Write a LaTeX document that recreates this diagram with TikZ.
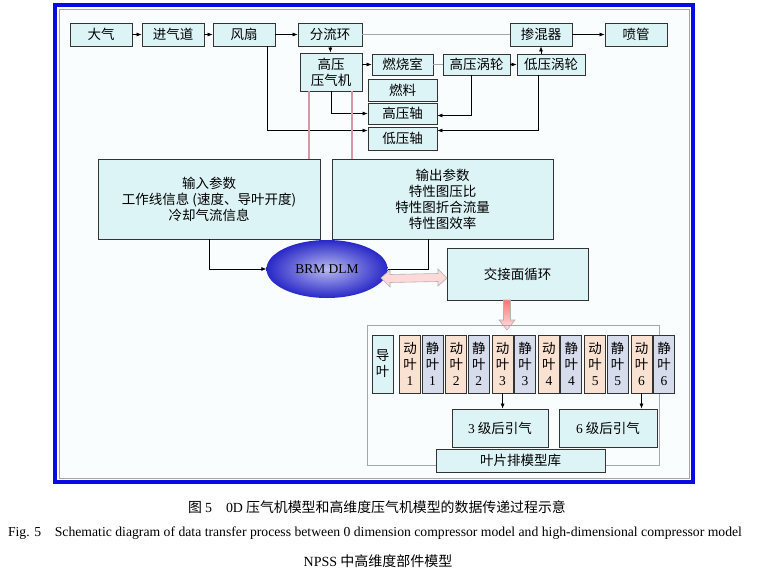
\documentclass[tikz,border=0pt]{standalone}
\usepackage{fontspec}
\setmainfont{Liberation Serif}
\newfontfamily\cjk{Noto Sans CJK SC}
\usepackage{tikz}
\usetikzlibrary{arrows.meta, shapes.geometric}

\definecolor{boxcyan}{RGB}{221,244,247}
\definecolor{rotorfill}{RGB}{250,226,210}
\definecolor{statorfill}{RGB}{214,220,236}
\definecolor{frameblue}{RGB}{10,10,225}
\definecolor{linkpink}{RGB}{218,150,165}
\definecolor{ballin}{RGB}{185,185,240}
\definecolor{ballout}{RGB}{40,40,200}

\tikzset{
    blk/.style={draw=black!80, fill=boxcyan, line width=0.9pt, align=center,
        inner sep=1pt, font=\cjk\fontsize{13.5}{16}\selectfont},
    rotor/.style={blk, fill=rotorfill, minimum width=21pt, minimum height=58pt},
    stator/.style={blk, fill=statorfill, minimum width=21pt, minimum height=58pt},
    arr/.style={-{Latex[length=5pt,width=4pt]}, line width=0.6pt},
    link/.style={draw=gray!70, line width=0.8pt},
    pinkline/.style={draw=linkpink, line width=2pt},
    fatarrow/.style={draw=gray!60, line width=0.6pt},
}

\begin{document}
\begin{tikzpicture}[x=1pt, y=-1pt]
    \useasboundingbox (0,0) rectangle (776,570);

    % frame
    \draw[frameblue, line width=3.5pt] (55,5) rectangle (693,482);
    \filldraw[fill={rgb,255:red,250;green,253;blue,253}, draw=gray!70, line width=0.6pt] (59,9) rectangle (689,478);

    % engine chain: 0D model
    \node[blk, minimum width=62pt, minimum height=23pt] (atm) at (101,34.5) {大气};
    \node[blk, minimum width=62pt, minimum height=23pt] (inlet) at (173,34.5) {进气道};
    \node[blk, minimum width=62pt, minimum height=23pt] (fan) at (244,34.5) {风扇};
    \node[blk, minimum width=64pt, minimum height=23pt] (split) at (330,34.5) {分流环};
    \node[blk, minimum width=62pt, minimum height=23pt] (mixer) at (541,34.5) {掺混器};
    \node[blk, minimum width=62pt, minimum height=23pt] (nozzle) at (636,34.5) {喷管};
    \node[blk, minimum width=62pt, minimum height=38pt] (hpc) at (331,72) {高压\\压气机};
    \node[blk, minimum width=61pt, minimum height=21pt] (comb) at (402.5,64.5) {燃烧室};
    \node[blk, minimum width=67pt, minimum height=21pt] (hpt) at (476.5,64.5) {高压涡轮};
    \node[blk, minimum width=68pt, minimum height=21pt] (lpt) at (551,64.5) {低压涡轮};
    \node[blk, minimum width=69pt, minimum height=22pt] (fuel) at (402.5,90) {燃料};
    \node[blk, minimum width=69pt, minimum height=21pt] (hps) at (402.5,113.5) {高压轴};
    \node[blk, minimum width=69pt, minimum height=23pt] (lps) at (402.5,138.5) {低压轴};

    \draw[arr] (atm) -- (inlet);
    \draw[arr] (inlet) -- (fan);
    \draw[arr] (fan) -- (split);
    \draw[link] (split) -- (mixer);
    \draw[arr] (mixer) -- (nozzle);
    \draw[arr] (split) -- (hpc);
    \draw[arr] (hpc.east |- comb.west) -- (comb.west);
    \draw[link] (comb) -- (hpt);
    \draw[arr] (hpt) -- (lpt);
    \draw[arr] (lpt.north -| mixer) -- (mixer.south);
    \draw[arr] (hpc) |- (hps);
    \draw[arr] ([xshift=23pt]fan.south) |- ([yshift=8pt]lps.west);
    \draw[arr] ([xshift=-5pt]hpt.south) |- ([yshift=-2pt]hps.east);
    \draw[arr] ([xshift=-13pt]lpt.south) |- ([yshift=8pt]lps.east);

    % parameter boxes
    \node[blk, minimum width=222pt, minimum height=80pt] (input) at (209,199)
        {输入参数\\工作线信息 (速度、导叶开度)\\冷却气流信息};
    \node[blk, minimum width=221pt, minimum height=80pt] (output) at (442.5,199)
        {输出参数\\特性图压比\\特性图折合流量\\特性图效率};
    \draw[pinkline] ([xshift=9pt]hpc.south west) coordinate (p1) -- (p1 |- input.north);
    \draw[pinkline] ([xshift=-10pt]hpc.south east) coordinate (p2) -- (p2 |- output.north);

    % BRM DLM and interface loop
    \node[ellipse, inner color=ballin, outer color=ballout, minimum width=121pt,
        minimum height=58pt, font=\fontsize{13.5}{15}\selectfont] (brm) at (327,269) {BRM DLM};
    \node[blk, minimum width=141pt, minimum height=52pt] (iface) at (517.5,274) {交接面循环};
    \draw[arr] (input) |- (brm);
    \draw[line width=0.6pt] ([xshift=-14pt]output.south) |- (brm.east);
    \draw[fatarrow, left color=red!15, middle color=red!55, right color=red!15]
        (381,278) -- ++(9,-8) -- ++(0,4.5) -- (438,273.5) -- ++(0,-4.5) -- (447,278)
        -- ++(-9,8) -- ++(0,-4.5) -- (390,282.5) -- ++(0,4.5) -- cycle;
    \draw[fatarrow, top color=red!55, bottom color=red!10]
        (503.5,300) -- (503.5,320) -- (499,320) -- (507,330) -- (515,320)
        -- (510.5,320) -- (510.5,300) -- cycle;

    % blade row library
    \draw[gray!70, line width=0.8pt] (367,325) rectangle (659,465);
    \node[blk, minimum width=21pt, minimum height=58pt] (igv) at (382.5,364) {导\\叶};
    \foreach \i in {1,...,6} {
        \node[rotor] (r\i) at ({410+(\i-1)*46.3},364) {动\\叶\\{\rmfamily \i}};
        \node[stator] (s\i) at ({432.5+(\i-1)*46.3},364) {静\\叶\\{\rmfamily \i}};
    }
    \node[blk, minimum width=96pt, minimum height=38pt] (bleed3) at (500,428) {{\rmfamily 3} 级后引气};
    \node[blk, minimum width=98pt, minimum height=38pt] (bleed6) at (608,428) {{\rmfamily 6} 级后引气};
    \node[blk, minimum width=169pt, minimum height=23pt] (lib) at (520.5,460.5) {叶片排模型库};
    \draw[arr] (r3) -- (r3 |- bleed3.north);
    \draw[arr] (r6) -- (r6 |- bleed6.north);

    % captions
    \node[font=\cjk\fontsize{13.9}{15}\selectfont] (cap1) at (377,507)
        {图 {\rmfamily 5\quad 0D} 压气机模型和高维度压气机模型的数据传递过程示意};
    \node[font=\fontsize{13.7}{15}\selectfont] (cap2) at (375,533)
        {Fig. 5\quad Schematic diagram of data transfer process between 0 dimension compressor model and high-dimensional compressor model};
    \node[font=\cjk\fontsize{14}{15}\selectfont] (cap3) at (378,561) {{\rmfamily NPSS} 中高维度部件模型};
\end{tikzpicture}
\end{document}
